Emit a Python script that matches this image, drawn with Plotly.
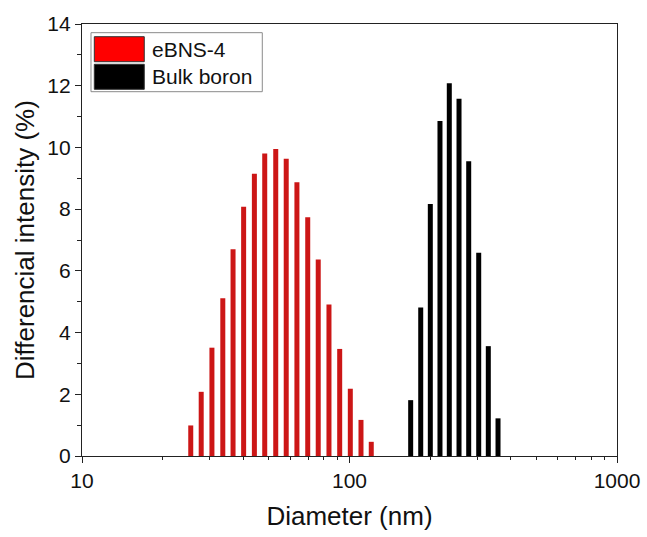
import plotly.graph_objects as go

# Data
ebns_diam = [25.5, 27.9, 30.6, 33.6, 36.7, 40.2, 44.1, 48.2, 53.0, 58.0,
             63.6, 69.8, 76.4, 83.8, 91.9, 100.7, 110.4, 120.6]
ebns_int = [0.99, 2.08, 3.51, 5.11, 6.70, 8.08, 9.15, 9.80, 9.95, 9.63,
            8.87, 7.74, 6.37, 4.91, 3.47, 2.18, 1.17, 0.46]
bulk_diam = [169.3, 184.6, 200.5, 217.9, 236.1, 256.7, 279.0, 304.1, 330.3, 359.1]
bulk_int = [1.81, 4.81, 8.17, 10.86, 12.08, 11.58, 9.55, 6.59, 3.56, 1.22]

series_names = ["eBNS-4", "Bulk boron"]
x_ticks = [10, 100, 1000]
y_ticks = [0, 2, 4, 6, 8, 10, 12, 14]
x_title = "Diameter (nm)"
y_title = "Differencial intensity (%)"

RED = "#cc1616"
BLACK = "#000000"
FONT = "Liberation Sans, Arial, sans-serif"


def stems(xs, ys):
    px, py = [], []
    for xv, yv in zip(xs, ys):
        px += [xv, xv, None]
        py += [0, yv, None]
    return px, py


fig = go.Figure()
for xs, ys, col, name in [(ebns_diam, ebns_int, RED, series_names[0]),
                          (bulk_diam, bulk_int, BLACK, series_names[1])]:
    px, py = stems(xs, ys)
    fig.add_trace(go.Scatter(x=px, y=py, mode="lines", name=name,
                             line=dict(color=col, width=5),
                             showlegend=False, hoverinfo="skip"))

# Legend drawn as a box with swatches (matching the reference style)
shapes = [
    dict(type="rect", xref="paper", yref="paper", x0=0.0168, x1=0.337,
         y0=0.8433, y1=0.9799, line=dict(color="#8a8a8a", width=1),
         fillcolor="white"),
    dict(type="rect", xref="paper", yref="paper", x0=0.0230, x1=0.1164,
         y0=0.9127, y1=0.9706, line=dict(color="#333333", width=1),
         fillcolor="#ff0000"),
    dict(type="rect", xref="paper", yref="paper", x0=0.0230, x1=0.1164,
         y0=0.8488, y1=0.9067, line=dict(color="#333333", width=1),
         fillcolor=BLACK),
]
annotations = [
    dict(xref="paper", yref="paper", x=0.1271, y=0.9421, text=series_names[0],
         showarrow=False, xanchor="left", yanchor="middle",
         font=dict(family=FONT, size=21, color="#111111")),
    dict(xref="paper", yref="paper", x=0.1271, y=0.878, text=series_names[1],
         showarrow=False, xanchor="left", yanchor="middle",
         font=dict(family=FONT, size=21, color="#111111")),
    dict(xref="paper", yref="paper", x=-0.1065, y=0.50, text=y_title,
         showarrow=False, xanchor="center", yanchor="middle", textangle=-90,
         font=dict(family=FONT, size=26, color="#111111")),
]

fig.update_layout(
    width=647, height=537,
    margin=dict(l=82, r=30, t=24, b=81),
    plot_bgcolor="white", paper_bgcolor="white",
    font=dict(family=FONT, color="#111111", size=20),
    shapes=shapes, annotations=annotations,
    showlegend=False,
)
fig.update_xaxes(
    type="log", range=[1, 3], automargin=False,
    tickmode="array", tickvals=x_ticks, ticktext=[str(v) for v in x_ticks],
    ticks="outside", ticklen=6, tickwidth=1.3, tickcolor="#222222",
    minor=dict(ticks="outside", ticklen=3, tickwidth=1.2, tickcolor="#222222",
               dtick="D1", showgrid=False),
    showline=True, linecolor="#222222", linewidth=1.3, mirror=True,
    showgrid=False, zeroline=False,
    tickfont=dict(size=21),
    title=dict(text=x_title, font=dict(size=26)),
)
fig.update_yaxes(
    range=[0, 14], automargin=False,
    tickmode="array", tickvals=y_ticks,
    ticks="outside", ticklen=6, tickwidth=1.3, tickcolor="#222222",
    minor=dict(ticks="outside", ticklen=4, tickwidth=1.2, tickcolor="#222222",
               dtick=1, showgrid=False),
    showline=True, linecolor="#222222", linewidth=1.3, mirror=True,
    showgrid=False, zeroline=False,
    tickfont=dict(size=21),
)

fig.write_html("out.html")
